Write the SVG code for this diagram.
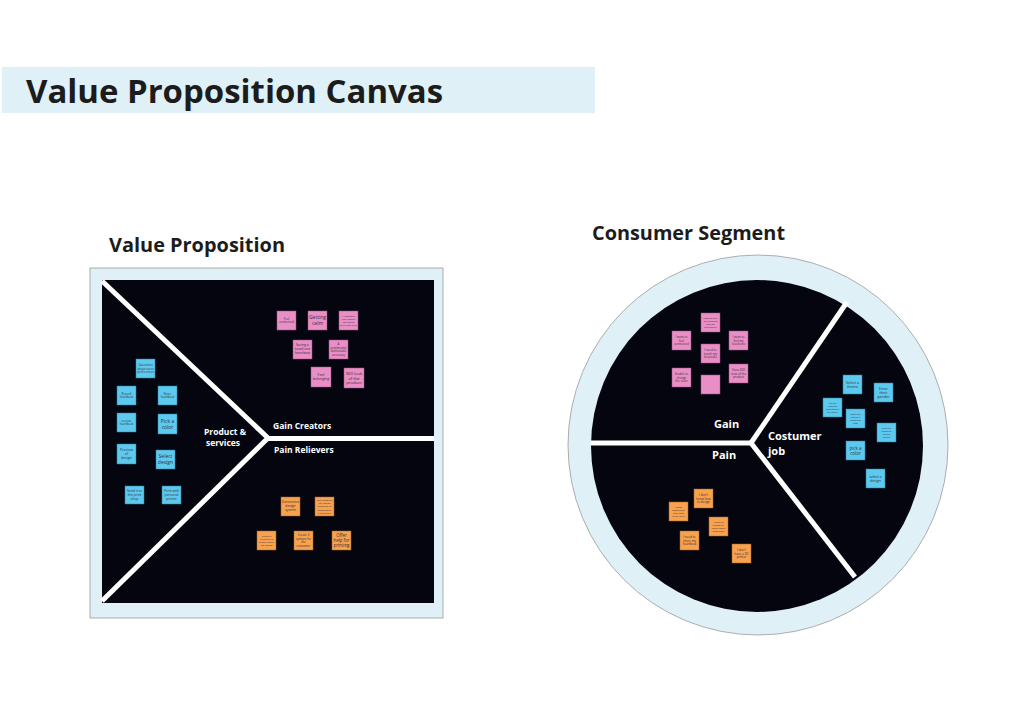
<svg xmlns="http://www.w3.org/2000/svg" width="1024" height="724" viewBox="0 0 1024 724">
<style>
.h{font-family:"Open Sans","Noto Sans","Liberation Sans",sans-serif;font-weight:bold;fill:#1c1c1c}
.lb{font-family:"Open Sans","Noto Sans","Liberation Sans",sans-serif;font-weight:bold;fill:#ffffff}
.t{font-family:"Open Sans","Noto Sans","Liberation Sans",sans-serif;fill:#3a2a35;text-anchor:middle}
.pk{fill:#e98fc6;stroke:#9c5584;stroke-width:0.5}
.bl{fill:#5ccaef;stroke:#2f7f9e;stroke-width:0.5}
.or{fill:#f6a24f;stroke:#a8652a;stroke-width:0.5}
.div{stroke:#ffffff;stroke-width:5;fill:none;stroke-linecap:butt;stroke-linejoin:miter}
</style>
<rect width="1024" height="724" fill="#ffffff"/>
<g id="title">
<rect x="2" y="67" width="593" height="46" fill="#dff1f6"/>
<text class="h" x="26" y="102.5" font-size="33" textLength="417" lengthAdjust="spacingAndGlyphs">Value Proposition Canvas</text>
</g>
<g id="vp-heading"><text class="h" x="109" y="252" font-size="19" textLength="176" lengthAdjust="spacingAndGlyphs">Value Proposition</text></g>
<g id="cs-heading"><text class="h" x="592" y="240" font-size="19" textLength="193" lengthAdjust="spacingAndGlyphs">Consumer Segment</text></g>

<g id="vp-canvas">
<rect x="90" y="268" width="353" height="350" fill="#dff1f6" stroke="#9a9a9a" stroke-width="0.8"/>
<rect x="102" y="280" width="332" height="323" fill="#05050f"/>
</g>
<g id="cs-canvas">
<circle cx="758" cy="445" r="190" fill="#dff1f6" stroke="#9a9a9a" stroke-width="0.8"/>
<circle cx="757" cy="446" r="166" fill="#05050f"/>
</g>

<g id="connectors">
<polyline class="div" points="102,281 268,438 102,601"/>
<line class="div" x1="266" y1="438.5" x2="434" y2="438.5"/>
<line class="div" x1="591" y1="443" x2="752" y2="443" stroke-width="4.5"/>
<line class="div" x1="751" y1="443" x2="847" y2="302" stroke-width="4.5"/>
<line class="div" x1="751" y1="443" x2="855" y2="577" stroke-width="4.5"/>
</g>

<g id="vp-labels">
<text class="lb" x="225" y="435" font-size="8.5" text-anchor="middle">Product &amp;</text>
<text class="lb" x="223" y="446" font-size="8.5" text-anchor="middle">services</text>
<text class="lb" x="273" y="428.5" font-size="8.5">Gain Creators</text>
<text class="lb" x="274" y="452.5" font-size="8.5">Pain Relievers</text>
</g>
<g id="cs-labels">
<text class="lb" x="714" y="427.5" font-size="11">Gain</text>
<text class="lb" x="712" y="458.5" font-size="11">Pain</text>
<text class="lb" x="768" y="439.5" font-size="11">Costumer</text>
<text class="lb" x="768" y="455" font-size="11">job</text>
</g>

<!-- Value proposition: product & services (blue) -->
<g id="n-questions"><rect class="bl" x="136" y="359" width="19" height="19"/><text class="t" font-size="3"><tspan x="145.5" y="366">Questions</tspan><tspan x="145.5" dy="3.6">about users</tspan><tspan x="145.5" dy="3.6">preferences</tspan></text></g>
<g id="n-record"><rect class="bl" x="117" y="386" width="19" height="19"/><text class="t" font-size="3"><tspan x="126.5" y="394.8">Record</tspan><tspan x="126.5" dy="3.6">heartbeat</tspan></text></g>
<g id="n-share"><rect class="bl" x="158" y="386" width="19" height="19"/><text class="t" font-size="3"><tspan x="167.5" y="394.8">Share</tspan><tspan x="167.5" dy="3.6">heartbeat</tspan></text></g>
<g id="n-receive"><rect class="bl" x="117" y="413" width="19" height="19"/><text class="t" font-size="3"><tspan x="126.5" y="421.8">receive</tspan><tspan x="126.5" dy="3.6">heartbeat</tspan></text></g>
<g id="n-pickcolor"><rect class="bl" x="158" y="414" width="19" height="20"/><text class="t" font-size="5"><tspan x="167.5" y="422.9">Pick a</tspan><tspan x="167.5" dy="5.8">color</tspan></text></g>
<g id="n-preview"><rect class="bl" x="117" y="444" width="19" height="20"/><text class="t" font-size="3.6"><tspan x="126.5" y="451">Preview</tspan><tspan x="126.5" dy="4.2">of</tspan><tspan x="126.5" dy="4.2">design</tspan></text></g>
<g id="n-selectdesign"><rect class="bl" x="156" y="450" width="19" height="19"/><text class="t" font-size="5"><tspan x="165.5" y="458.3">Select</tspan><tspan x="165.5" dy="5.8">design</tspan></text></g>
<g id="n-sendshop"><rect class="bl" x="125" y="486" width="19" height="18"/><text class="t" font-size="3.4"><tspan x="134.5" y="491.5">Send it to</tspan><tspan x="134.5" dy="4">the print</tspan><tspan x="134.5" dy="4">shop</tspan></text></g>
<g id="n-printpersonal"><rect class="bl" x="162" y="486" width="19" height="18"/><text class="t" font-size="3.4"><tspan x="171.5" y="491.5">Print with</tspan><tspan x="171.5" dy="4">personal</tspan><tspan x="171.5" dy="4">printer</tspan></text></g>

<!-- Gain creators (pink) -->
<g id="n-feelconnected"><rect class="pk" x="277" y="311" width="19" height="19"/><text class="t" font-size="3"><tspan x="286.5" y="319.8">Feel</tspan><tspan x="286.5" dy="3.6">connected</tspan></text></g>
<g id="n-gettingcalm"><rect class="pk" x="308" y="311" width="19" height="19"/><text class="t" font-size="5"><tspan x="317.5" y="319.3">Getting</tspan><tspan x="317.5" dy="5.8">calm</tspan></text></g>
<g id="n-keepsake"><rect class="pk" x="339" y="311" width="19" height="19"/><text class="t" font-size="2.5"><tspan x="348.5" y="316.8">A keepsake</tspan><tspan x="348.5" dy="3.1">that people</tspan><tspan x="348.5" dy="3.1">can match</tspan><tspan x="348.5" dy="3.1">with their style</tspan></text></g>
<g id="n-saving"><rect class="pk" x="293" y="340" width="19" height="19"/><text class="t" font-size="3.4"><tspan x="302.5" y="346.3">Saving a</tspan><tspan x="302.5" dy="4">loved one</tspan><tspan x="302.5" dy="4">heartbeat</tspan></text></g>
<g id="n-sentimental"><rect class="pk" x="329" y="340" width="19" height="19"/><text class="t" font-size="2.9"><tspan x="338.5" y="345.2">A</tspan><tspan x="338.5" dy="3.5">sentimental,</tspan><tspan x="338.5" dy="3.5">fashionable</tspan><tspan x="338.5" dy="3.5">accessory</tspan></text></g>
<g id="n-belonging"><rect class="pk" x="311" y="367" width="20" height="20"/><text class="t" font-size="3.6"><tspan x="321" y="376.2">Feel</tspan><tspan x="321" dy="4.2">belonging</tspan></text></g>
<g id="n-360look"><rect class="pk" x="344" y="368" width="20" height="20"/><text class="t" font-size="4.2"><tspan x="354" y="374.6">360 look</tspan><tspan x="354" dy="4.9">of the</tspan><tspan x="354" dy="4.9">product</tspan></text></g>

<!-- Pain relievers (orange) -->
<g id="n-generative"><rect class="or" x="281" y="497" width="19" height="19"/><text class="t" font-size="3.4"><tspan x="290.5" y="503.3">Generative</tspan><tspan x="290.5" dy="4">design</tspan><tspan x="290.5" dy="4">system</tspan></text></g>
<g id="n-templates"><rect class="or" x="315" y="497" width="19" height="19"/><text class="t" font-size="2.5"><tspan x="324.5" y="501.2">Give template</tspan><tspan x="324.5" dy="3.1">the design</tspan><tspan x="324.5" dy="3.1">based on th</tspan><tspan x="324.5" dy="3.1">consumer's</tspan><tspan x="324.5" dy="3.1">preference</tspan></text></g>
<g id="n-stimulus"><rect class="or" x="257" y="531" width="19" height="19"/><text class="t" font-size="2.5"><tspan x="266.5" y="536.8">Create a</tspan><tspan x="266.5" dy="3.1">stimulus to</tspan><tspan x="266.5" dy="3.1">ensure about</tspan><tspan x="266.5" dy="3.1">the design</tspan></text></g>
<g id="n-options"><rect class="or" x="294" y="531" width="19" height="19"/><text class="t" font-size="3"><tspan x="303.5" y="536.2">Create 3</tspan><tspan x="303.5" dy="3.6">options for</tspan><tspan x="303.5" dy="3.6">the</tspan><tspan x="303.5" dy="3.6">consumer</tspan></text></g>
<g id="n-offerhelp"><rect class="or" x="332" y="531" width="19" height="19"/><text class="t" font-size="4.4"><tspan x="341.5" y="536.9">Offer</tspan><tspan x="341.5" dy="5.1">help for</tspan><tspan x="341.5" dy="5.1">printing</tspan></text></g>

<!-- Consumer segment: gain (pink) -->
<g id="c-carry"><rect class="pk" x="701" y="313" width="19" height="19"/><text class="t" font-size="2.3"><tspan x="710.5" y="319">I want to carry</tspan><tspan x="710.5" dy="2.9">my keepsake</tspan><tspan x="710.5" dy="2.9">with me</tspan><tspan x="710.5" dy="2.9">everywhere</tspan></text></g>
<g id="c-feelconnected"><rect class="pk" x="672" y="331" width="19" height="19"/><text class="t" font-size="3"><tspan x="681.5" y="338">I want to</tspan><tspan x="681.5" dy="3.6">feel</tspan><tspan x="681.5" dy="3.6">connected</tspan></text></g>
<g id="c-feelloved"><rect class="pk" x="729" y="331" width="19" height="19"/><text class="t" font-size="3"><tspan x="738.5" y="338">I want to</tspan><tspan x="738.5" dy="3.6">feel my</tspan><tspan x="738.5" dy="3.6">loved one</tspan></text></g>
<g id="c-touch"><rect class="pk" x="701" y="344" width="19" height="19"/><text class="t" font-size="3"><tspan x="710.5" y="351">I need to</tspan><tspan x="710.5" dy="3.6">touch my</tspan><tspan x="710.5" dy="3.6">keepsake</tspan></text></g>
<g id="c-changecolor"><rect class="pk" x="672" y="368" width="19" height="19"/><text class="t" font-size="3"><tspan x="681.5" y="375">Enable to</tspan><tspan x="681.5" dy="3.6">change</tspan><tspan x="681.5" dy="3.6">the color</tspan></text></g>
<g id="c-empty"><rect class="pk" x="701" y="375" width="19" height="19"/></g>
<g id="c-360view"><rect class="pk" x="729" y="364" width="19" height="19"/><text class="t" font-size="3"><tspan x="738.5" y="371">Have 360</tspan><tspan x="738.5" dy="3.6">view of the</tspan><tspan x="738.5" dy="3.6">product</tspan></text></g>

<!-- Consumer segment: customer job (blue) -->
<g id="c-theme"><rect class="bl" x="843" y="375" width="19" height="19"/><text class="t" font-size="3.6"><tspan x="852.5" y="383.7">Select a</tspan><tspan x="852.5" dy="4.2">theme</tspan></text></g>
<g id="c-gender"><rect class="bl" x="874" y="383" width="19" height="19"/><text class="t" font-size="3.6"><tspan x="883.5" y="389.6">Enter</tspan><tspan x="883.5" dy="4.2">their</tspan><tspan x="883.5" dy="4.2">gender</tspan></text></g>
<g id="c-owner"><rect class="bl" x="823" y="398" width="19" height="19"/><text class="t" font-size="2.3"><tspan x="832.5" y="404">Let the</tspan><tspan x="832.5" dy="2.9">program</tspan><tspan x="832.5" dy="2.9">know who is</tspan><tspan x="832.5" dy="2.9">the owner</tspan></text></g>
<g id="c-recorddata"><rect class="bl" x="846" y="409" width="19" height="19"/><text class="t" font-size="2.3"><tspan x="855.5" y="415">Record or</tspan><tspan x="855.5" dy="2.9">receive a</tspan><tspan x="855.5" dy="2.9">heartbeat</tspan><tspan x="855.5" dy="2.9">data</tspan></text></g>
<g id="c-send3d"><rect class="bl" x="877" y="423" width="19" height="19"/><text class="t" font-size="2.3"><tspan x="886.5" y="429">Send the</tspan><tspan x="886.5" dy="2.9">design to</tspan><tspan x="886.5" dy="2.9">the 3D</tspan><tspan x="886.5" dy="2.9">printer</tspan></text></g>
<g id="c-pickcolor"><rect class="bl" x="846" y="441" width="19" height="19"/><text class="t" font-size="4.5"><tspan x="855.5" y="449.5">pick a</tspan><tspan x="855.5" dy="5.2">color</tspan></text></g>
<g id="c-selectdesign"><rect class="bl" x="866" y="469" width="19" height="19"/><text class="t" font-size="3.6"><tspan x="875.5" y="477.7">select a</tspan><tspan x="875.5" dy="4.2">design</tspan></text></g>

<!-- Consumer segment: pain (orange) -->
<g id="c-knowdesign"><rect class="or" x="694" y="489" width="19" height="19"/><text class="t" font-size="3"><tspan x="703.5" y="496">I don't</tspan><tspan x="703.5" dy="3.6">know how</tspan><tspan x="703.5" dy="3.6">to design</tspan></text></g>
<g id="c-mystyle"><rect class="or" x="669" y="502" width="19" height="19"/><text class="t" font-size="2.5"><tspan x="678.5" y="507.8">I need</tspan><tspan x="678.5" dy="3.1">something</tspan><tspan x="678.5" dy="3.1">that goes</tspan><tspan x="678.5" dy="3.1">to my style</tspan></text></g>
<g id="c-review"><rect class="or" x="709" y="517" width="19" height="19"/><text class="t" font-size="2.5"><tspan x="718.5" y="522.8">I need to</tspan><tspan x="718.5" dy="3.1">review my</tspan><tspan x="718.5" dy="3.1">loved one's</tspan><tspan x="718.5" dy="3.1">heartbeat</tspan></text></g>
<g id="c-sharehb"><rect class="or" x="680" y="531" width="19" height="19"/><text class="t" font-size="3"><tspan x="689.5" y="538">I need to</tspan><tspan x="689.5" dy="3.6">share my</tspan><tspan x="689.5" dy="3.6">heartbeat</tspan></text></g>
<g id="c-no3d"><rect class="or" x="732" y="544" width="19" height="19"/><text class="t" font-size="3"><tspan x="741.5" y="551">I don't</tspan><tspan x="741.5" dy="3.6">have a 3D</tspan><tspan x="741.5" dy="3.6">printer</tspan></text></g>
</svg>
